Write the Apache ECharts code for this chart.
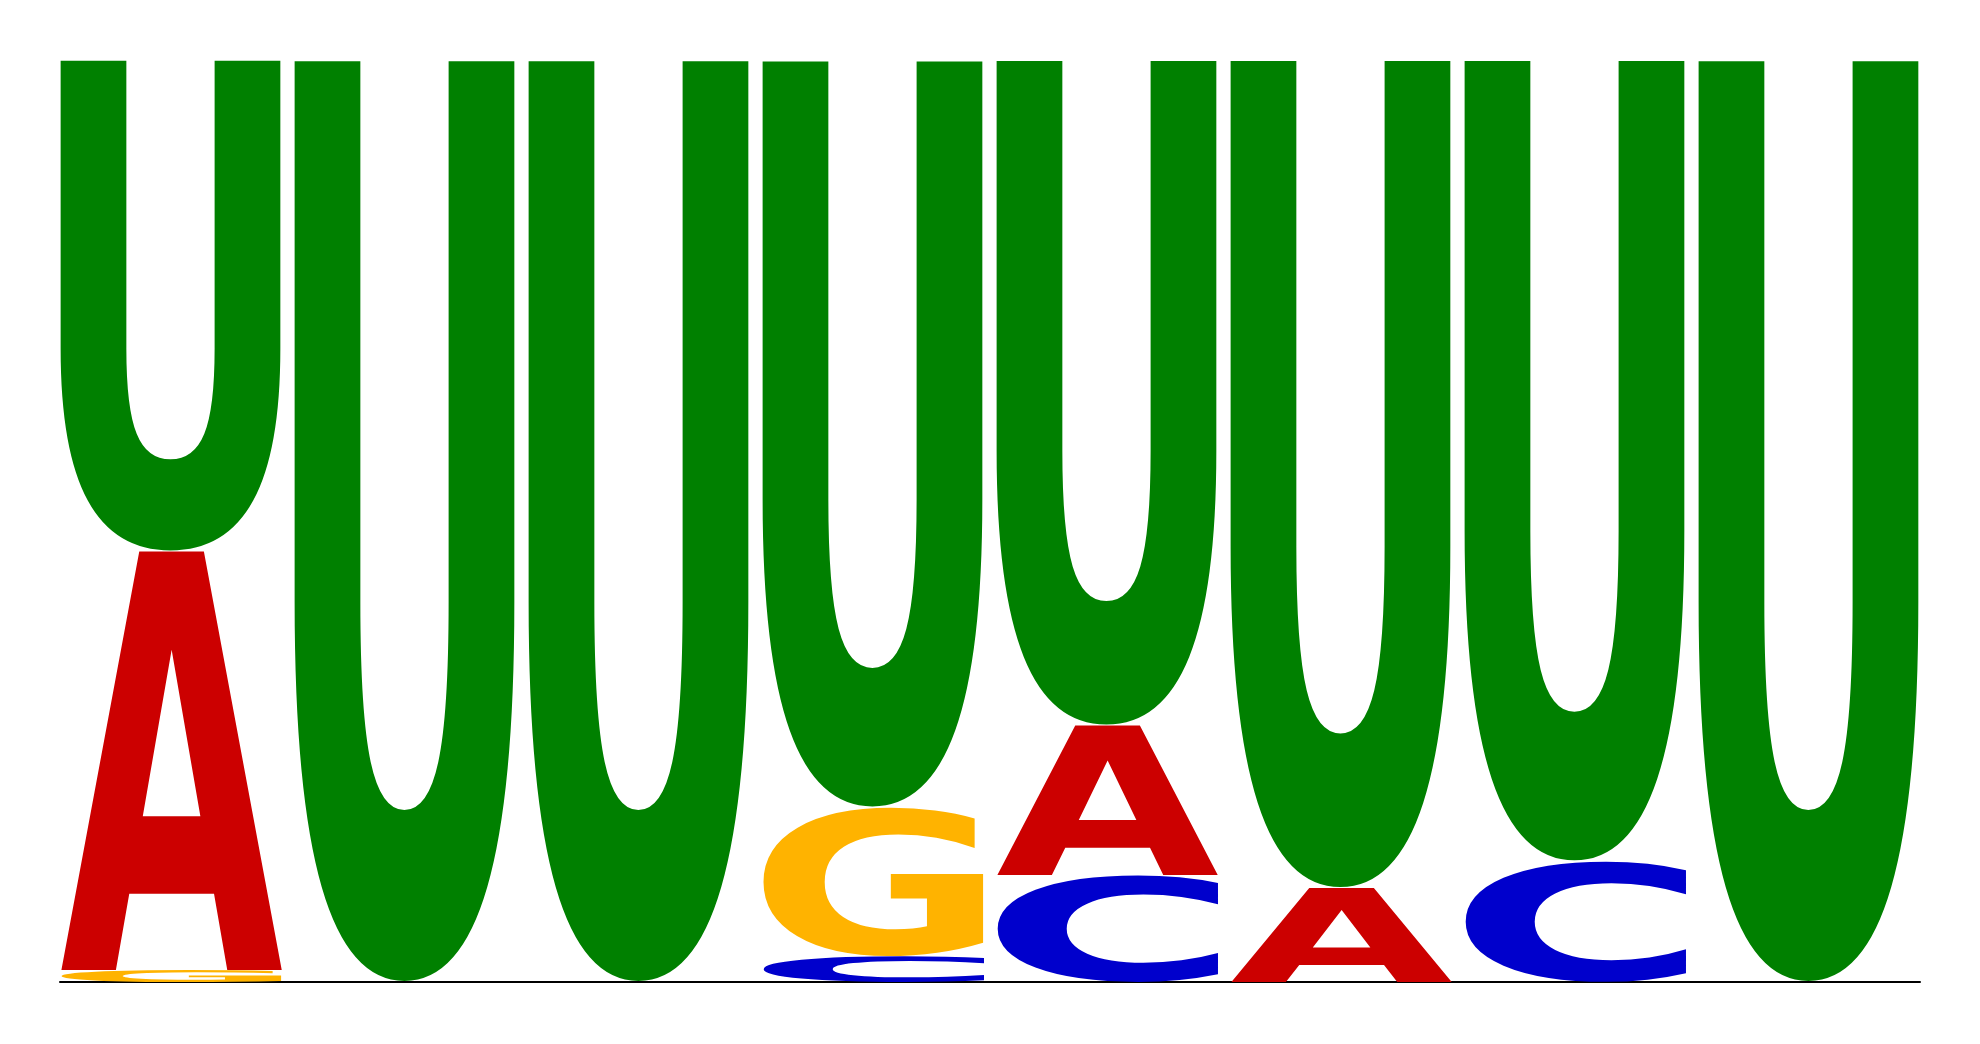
<!DOCTYPE html>
<html>
<head>
<meta charset="utf-8">
<title>Sequence logo</title>
<script src="https://cdn.jsdelivr.net/npm/echarts@6.0.0/dist/echarts.min.js"></script>
<style>
  html, body { margin: 0; padding: 0; background: #fff; }
  #chart { width: 1980px; height: 1044px; }
</style>
</head>
<body>
<div id="chart"></div>
<script>
// positions of the logo and the information (bits) of each base
const positions = [1, 2, 3, 4, 5, 6, 7, 8];
const letters = ['A', 'C', 'G', 'U'];
const heightA = [0.909, 0, 0, 0, 0.325, 0.204, 0, 0];
const heightC = [0, 0, 0, 0.056, 0.232, 0, 0.262, 0];
const heightG = [0.026, 0, 0, 0.323, 0, 0, 0, 0];
const heightU = [1.065, 2.0, 2.0, 1.620, 1.443, 1.796, 1.738, 2.0];

const letterColor = { A: '#cc0000', C: '#0000cc', G: '#ffb300', U: '#008000' };
const FONT = 'bold 200px "DejaVu Sans"';
const HALF = 0.4744; // half glyph width, in position units

// ink box of every glyph, measured once
const metrics = {};
(function () {
    let ctx = document.createElement('canvas').getContext('2d');
    ctx.font = FONT;
    ctx.textBaseline = 'middle';
    ctx.textAlign = 'left';
    letters.forEach(l => {
        let m = ctx.measureText(l);
        metrics[l] = {
            left: m.actualBoundingBoxLeft,
            right: m.actualBoundingBoxRight,
            asc: m.actualBoundingBoxAscent,
            desc: m.actualBoundingBoxDescent
        };
    });
})();

// stack letters per column, smallest at the bottom
let stackData = [];
const heights = { A: heightA, C: heightC, G: heightG, U: heightU };
positions.forEach((p, i) => {
    let col = letters.map(l => ({ l: l, h: heights[l][i] })).filter(d => d.h > 0);
    col.sort((a, b) => a.h - b.h);
    let y = 0;
    col.forEach(d => {
        stackData.push([p, y, y + d.h, letters.indexOf(d.l)]);
        y += d.h;
    });
});

function renderLetter(params, api) {
    let x = api.value(0);
    let l = letters[api.value(3)];
    let tl = api.coord([x - HALF, api.value(2)]);
    let br = api.coord([x + HALF, api.value(1)]);
    let w = br[0] - tl[0];
    let h = br[1] - tl[1];
    let m = metrics[l];
    let sx = w / (m.left + m.right);
    let sy = h / (m.asc + m.desc);
    return {
        type: 'text',
        x: tl[0] + sx * m.left,
        y: tl[1] + sy * m.asc,
        scaleX: sx,
        scaleY: sy,
        style: {
            text: l,
            x: 0,
            y: 0,
            font: FONT,
            fill: letterColor[l],
            align: 'left',
            verticalAlign: 'middle'
        }
    };
}

let myChart = echarts.init(document.getElementById('chart'));
myChart.setOption({
    backgroundColor: '#ffffff',
    animation: false,
    grid: { left: 60, right: 60, top: 60, bottom: 62 },
    xAxis: {
        type: 'value',
        min: 1 - HALF,
        max: 8 + HALF,
        axisLine: { show: true, lineStyle: { color: '#000', width: 2 } },
        axisTick: { show: false },
        axisLabel: { show: false },
        splitLine: { show: false }
    },
    yAxis: {
        type: 'value',
        min: 0,
        max: 2,
        show: false
    },
    series: [{
        type: 'custom',
        clip: false,
        renderItem: renderLetter,
        encode: { x: 0, y: [1, 2] },
        data: stackData
    }]
});
</script>
</body>
</html>
